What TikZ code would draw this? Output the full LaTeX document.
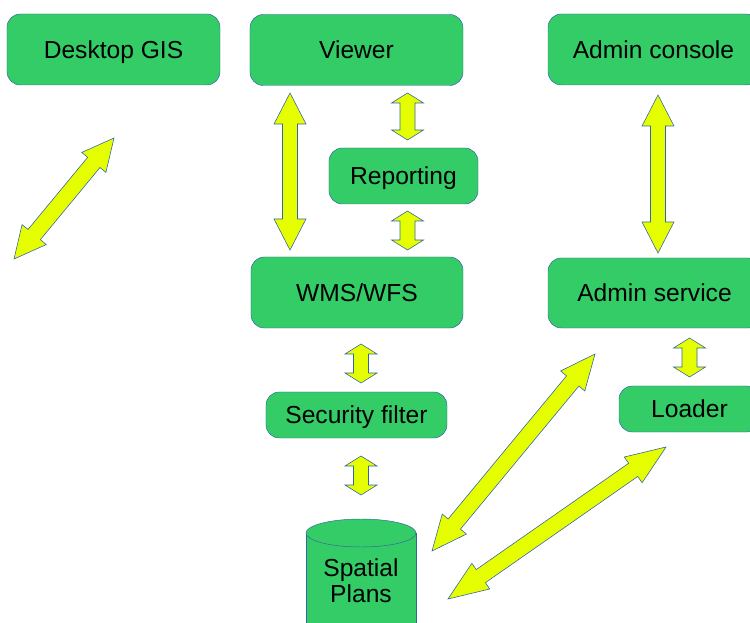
\documentclass[tikz,border=0pt]{standalone}
\usepackage{fontspec}
\setmainfont{Liberation Sans}
\usepackage{tikz}
\usetikzlibrary{calc}
\usepackage{xcolor}
\definecolor{boxgreen}{RGB}{51,204,102}
\definecolor{arrowyellow}{RGB}{230,255,0}
\definecolor{edgeblue}{RGB}{52,101,164}

\tikzset{
  box/.style={draw=edgeblue, fill=boxgreen, rounded corners=0.4cm, inner sep=0pt,
    font=\fontsize{21}{22}\selectfont, text height=18.9pt, text depth=3.9pt},
  blockarrow/.style={draw=edgeblue, fill=arrowyellow, line width=0.5pt, line join=miter},
}
% #1 from, #2 to, #3 shaft half width, #4 head half width, #5 head length
\newcommand{\dblarrow}[5]{%
  \draw[blockarrow] (#1)
    -- ($(#1)!#5!(#2)!#4!90:(#2)$)
    -- ($(#1)!#5!(#2)!#3!90:(#2)$)
    -- ($(#2)!#5!(#1)!#3!-90:(#1)$)
    -- ($(#2)!#5!(#1)!#4!-90:(#1)$)
    -- (#2)
    -- ($(#2)!#5!(#1)!#4!90:(#1)$)
    -- ($(#2)!#5!(#1)!#3!90:(#1)$)
    -- ($(#1)!#5!(#2)!#3!-90:(#2)$)
    -- ($(#1)!#5!(#2)!#4!-90:(#2)$)
    -- cycle;}

\begin{document}
\begin{tikzpicture}[x=0.03cm, y=-0.03cm]
  \clip (0,0) rectangle (750,623);
  % Boxes
  \node[box, minimum width=6.39cm, minimum height=2.13cm] (desktop) at (113.5,49.5) {Desktop GIS};
  \node[box, minimum width=6.39cm, minimum height=2.13cm] (viewer) at (356.5,50) {Viewer};
  \node[box, minimum width=6.33cm, minimum height=2.13cm] (console) at (653.5,49.5) {Admin console};
  \node[box, minimum width=4.47cm, minimum height=1.68cm] (reporting) at (403.5,176) {Reporting};
  \node[box, minimum width=6.36cm, minimum height=2.13cm] (wms) at (357,292.5) {WMS/WFS};
  \node[box, minimum width=6.39cm, minimum height=2.10cm] (service) at (654.5,293) {Admin service};
  \node[box, minimum width=5.43cm, minimum height=1.38cm] (secfilter) at (356.5,415) {Security filter};
  \node[box, minimum width=4.23cm, minimum height=1.38cm] (loader) at (689.5,409) {Loader};
  % Database cylinder
  \draw[edgeblue, fill=boxgreen] (306,533) -- (306,650) -- (416,650) -- (416,533) -- cycle;
  \draw[edgeblue, fill=boxgreen] (361,533) ellipse (1.65cm and 0.42cm);
  \node[font=\fontsize{21}{22}\selectfont, align=center] (plans) at (361,581) {Spatial\\Plans};
  % Arrow ends
  \coordinate (gis-a) at (114,138);   \coordinate (gis-b) at (14,259);
  \coordinate (vw-a) at (290,93);     \coordinate (vw-b) at (290,250);
  \coordinate (vr-a) at (407.5,93);   \coordinate (vr-b) at (407.5,140);
  \coordinate (rw-a) at (407.5,211);  \coordinate (rw-b) at (407.5,250);
  \coordinate (cs-a) at (658,95);     \coordinate (cs-b) at (658,253);
  \coordinate (ws-a) at (361,344);    \coordinate (ws-b) at (361,383);
  \coordinate (sp-a) at (361,456);    \coordinate (sp-b) at (361,495);
  \coordinate (sl-a) at (689.5,338);  \coordinate (sl-b) at (689.5,377);
  \coordinate (ps-a) at (432,551);    \coordinate (ps-b) at (595,354);
  \coordinate (pl-a) at (448,599);    \coordinate (pl-b) at (666,447);
  % Long arrows
  \dblarrow{gis-a}{gis-b}{0.24cm}{0.47cm}{0.95cm}
  \dblarrow{vw-a}{vw-b}{0.225cm}{0.48cm}{0.93cm}
  \dblarrow{cs-a}{cs-b}{0.225cm}{0.48cm}{0.93cm}
  \dblarrow{ps-a}{ps-b}{0.24cm}{0.47cm}{1.05cm}
  \dblarrow{pl-a}{pl-b}{0.24cm}{0.47cm}{1.2cm}
  % Short arrows
  \dblarrow{vr-a}{vr-b}{0.225cm}{0.48cm}{0.3cm}
  \dblarrow{rw-a}{rw-b}{0.225cm}{0.48cm}{0.3cm}
  \dblarrow{ws-a}{ws-b}{0.225cm}{0.48cm}{0.3cm}
  \dblarrow{sp-a}{sp-b}{0.225cm}{0.48cm}{0.3cm}
  \dblarrow{sl-a}{sl-b}{0.225cm}{0.48cm}{0.3cm}
\end{tikzpicture}
\end{document}
